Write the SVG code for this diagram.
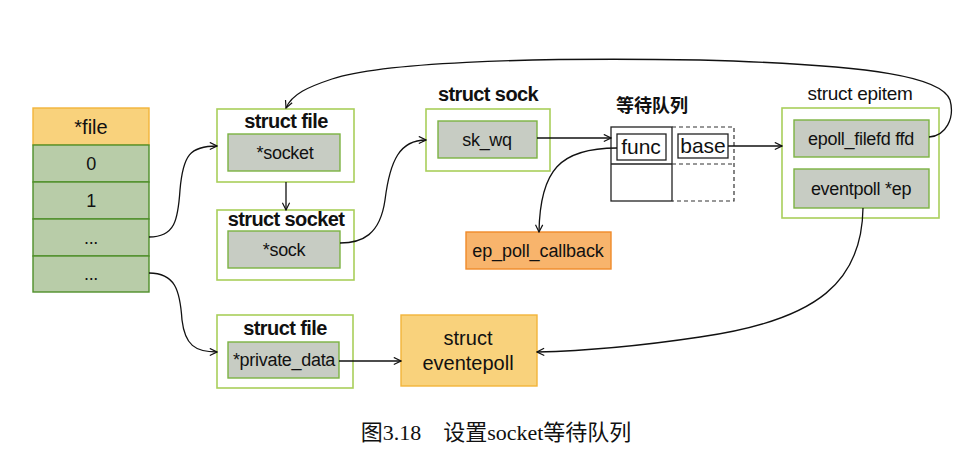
<svg xmlns="http://www.w3.org/2000/svg" width="978" height="457" viewBox="0 0 978 457">
<defs>
<marker id="arr" viewBox="0 0 10 10" refX="9" refY="5" markerWidth="9" markerHeight="9" orient="auto" markerUnits="userSpaceOnUse">
<path d="M1,1 L9,5 L1,9" fill="none" stroke="#111" stroke-width="1.3"/>
</marker>
<style>
.outer{fill:#ffffff;stroke:#a9cf5a;stroke-width:1.6}
.inner{fill:#c7ccc3;stroke:#7cb342;stroke-width:1.4}
.row{fill:#b8cca8;stroke:#4f8f2a;stroke-width:1.4}
.orange{fill:#f9d27c;stroke:#f2b43a;stroke-width:1.4}
.cb{fill:#f8b46c;stroke:#f08a2a;stroke-width:1.4}
.title{font-family:"Liberation Sans",Arial,sans-serif;font-size:20px;font-weight:bold;fill:#111;text-anchor:middle;letter-spacing:-0.6px}
.lbl{font-family:"Liberation Sans",Arial,sans-serif;font-size:18px;fill:#111;text-anchor:middle;letter-spacing:-0.3px}
.big{font-family:"Liberation Sans",Arial,sans-serif;font-size:20px;fill:#111;text-anchor:middle}
.con{fill:none;stroke:#111;stroke-width:1.3}
.q{fill:#fff;stroke:#222;stroke-width:1.3}
.qd{fill:none;stroke:#333;stroke-width:1.2;stroke-dasharray:4 3}
</style>
</defs>

<g id="filearray">
<rect class="orange" x="33" y="108" width="116" height="37"/>
<text class="big" x="91" y="134">*file</text>
<rect class="row" x="33" y="145" width="116" height="37"/>
<text class="lbl" x="91" y="170">0</text>
<rect class="row" x="33" y="182" width="116" height="37"/>
<text class="lbl" x="91" y="207">1</text>
<rect class="row" x="33" y="219" width="116" height="37"/>
<text class="lbl" x="91" y="244">...</text>
<rect class="row" x="33" y="256" width="116" height="36"/>
<text class="lbl" x="91" y="280">...</text>
</g>

<g id="structfile1">
<rect class="outer" x="217" y="109" width="137" height="73"/>
<text class="title" x="286" y="128">struct file</text>
<rect class="inner" x="228" y="134" width="112" height="37"/>
<text class="lbl" x="285" y="159">*socket</text>
</g>

<g id="structsocket">
<rect class="outer" x="217" y="210" width="137" height="70"/>
<text class="title" x="286" y="226">struct socket</text>
<rect class="inner" x="228" y="231" width="112" height="37"/>
<text class="lbl" x="284" y="256">*sock</text>
</g>

<g id="structsock">
<text class="title" x="488" y="101">struct sock</text>
<rect class="outer" x="426" y="109" width="124" height="62"/>
<rect class="inner" x="438" y="121" width="99" height="37"/>
<text class="lbl" x="487" y="146">sk_wq</text>
</g>

<g id="waitqueue">
<text x="652" y="112" style="font-family:'Noto Sans CJK SC',sans-serif;font-size:18px;font-weight:bold;fill:#111;text-anchor:middle">等待队列</text>
<rect class="q" x="611" y="127" width="61" height="74"/>
<line class="q" x1="611" y1="164" x2="672" y2="164"/>
<path class="qd" d="M672,127 H734 V201 H672 M672,164 H734"/>
<rect class="q" x="617" y="134" width="49" height="26"/>
<text class="big" x="641" y="154" style="font-size:21px">func</text>
<rect class="q" x="678" y="134" width="50" height="24"/>
<text class="big" x="703" y="153" style="font-size:21px">base</text>
</g>

<g id="eppollcallback">
<rect class="cb" x="466" y="232" width="145" height="37"/>
<text class="lbl" x="538" y="257" style="letter-spacing:-0.1px">ep_poll_callback</text>
</g>

<g id="structepitem">
<text class="title" x="860" y="100" style="font-weight:normal;font-size:19px;letter-spacing:-0.3px">struct epitem</text>
<rect class="outer" x="782" y="108" width="157" height="110"/>
<rect class="inner" x="794" y="120" width="135" height="37"/>
<text class="lbl" x="861" y="145">epoll_filefd ffd</text>
<rect class="inner" x="794" y="169" width="135" height="39"/>
<text class="lbl" x="861" y="195">eventpoll *ep</text>
</g>

<g id="structfile2">
<rect class="outer" x="217" y="315" width="136" height="73"/>
<text class="title" x="285" y="335">struct file</text>
<rect class="inner" x="228" y="342" width="111" height="36"/>
<text class="lbl" x="284" y="366">*private_data</text>
</g>

<g id="structeventepoll">
<rect class="orange" x="401" y="315" width="136" height="71"/>
<text class="big" x="468" y="345">struct</text>
<text class="big" x="468" y="370">eventepoll</text>
</g>

<g id="connectors">
<path class="con" marker-end="url(#arr)" d="M149,237 C175,237 178,220 180,190 C183,155 190,146 217,146"/>
<path class="con" marker-end="url(#arr)" d="M149,273 C175,273 180,290 182,320 C185,345 195,352 217,352"/>
<path class="con" marker-end="url(#arr)" d="M286,182 V210"/>
<path class="con" marker-end="url(#arr)" d="M340,243 C362,243 380,235 385,200 C390,160 400,140 426,140"/>
<path class="con" marker-end="url(#arr)" d="M537,138 H611"/>
<path class="con" marker-end="url(#arr)" d="M617,148 C560,148 540,170 539,232"/>
<path class="con" marker-end="url(#arr)" d="M728,146 H782"/>
<path class="con" marker-end="url(#arr)" d="M929,137 C946,136 955,118 950,100 C942,78 880,65 700,60 C520,57 380,63 332,79 C308,87 292,94 286,108"/>
<path class="con" marker-end="url(#arr)" d="M863,208 C862,280 820,320 700,337 C640,346 580,351 537,352"/>
<path class="con" marker-end="url(#arr)" d="M339,361 H401"/>
</g>

<text x="496" y="440" style="font-family:'Liberation Serif','Noto Sans CJK SC',serif;font-size:22px;fill:#111;text-anchor:middle" xml:space="preserve">图3.18    设置socket等待队列</text>
</svg>
